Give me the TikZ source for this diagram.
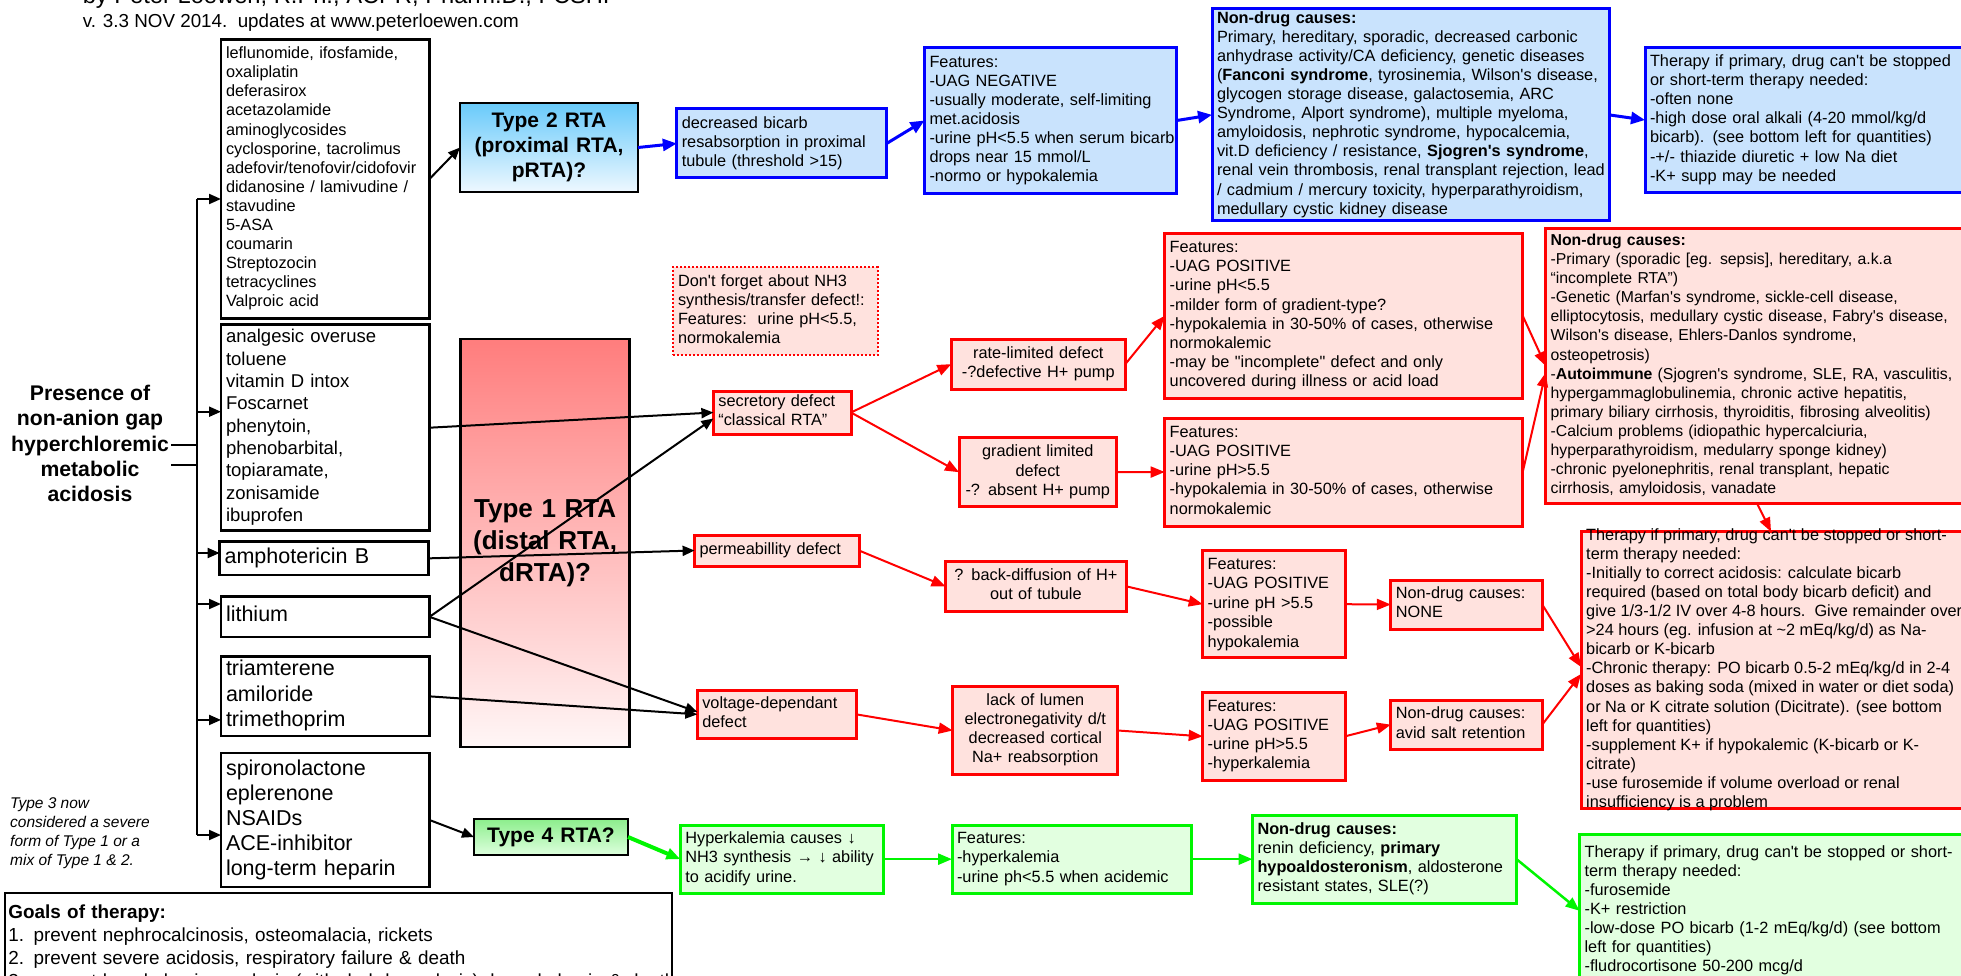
\documentclass[tikz,border=0pt]{standalone}
\usepackage{fontspec}
\setmainfont{Liberation Sans}[Ligatures=TeXOff]
\usetikzlibrary{arrows.meta}
\definecolor{bfill}{RGB}{201,227,253}
\definecolor{rfill}{RGB}{255,226,222}
\definecolor{gfill}{RGB}{226,255,224}
\definecolor{gline}{RGB}{0,245,0}
\newcommand{\setfs}[2]{\fontsize{#1pt}{#2pt}\selectfont}
\newcommand{\ltab}[1]{\begin{tabular}{@{}l@{}}#1\end{tabular}}
\newcommand{\ctab}[1]{\begin{tabular}{@{}c@{}}#1\end{tabular}}
\tikzset{
  wh/.code 2 args={\pgfmathsetlengthmacro\boxtw{#1-10pt}\edef\boxtmp{\noexpand\tikzset{text width=\boxtw,minimum height=#2pt}}\boxtmp},
  box/.style={anchor=north west, outer sep=0pt, inner xsep=5pt, inner ysep=0pt, align=left},
  sm/.style={font=\setfs{16.3}{19.1}},
  blk/.style={box, draw=black, line width=2.5pt, fill=white},
  bbx/.style={box, sm, draw=blue, line width=3pt, fill=bfill},
  rbx/.style={box, sm, draw=red, line width=3pt, fill=rfill},
  gbx/.style={box, sm, draw=gline, line width=3pt, fill=gfill},
  barr/.style={draw=black, line width=2pt, -{Triangle[length=12pt,width=10pt]}},
  blarr/.style={draw=blue, line width=3pt, -{Triangle[length=14pt,width=12pt]}},
  rarr/.style={draw=red, line width=2pt, -{Triangle[length=14pt,width=11pt]}},
  garr/.style={draw=gline, line width=2.5pt, -{Triangle[length=14pt,width=11pt]}},
}
\begin{document}
\begin{tikzpicture}[x=1pt,y=-1pt]
\useasboundingbox (0,0) rectangle (1961,976);
\clip (0,0) rectangle (1961,976);

% header
\node[anchor=base west, inner sep=0pt, font=\setfs{23.7}{28}] (auth) at (82.6,3.5) {by Peter Loewen, R.Ph., ACPR, Pharm.D., FCSHP};
\node[anchor=base west, inner sep=0pt, font=\setfs{18.8}{22}] (ver) at (82.6,27.5) {v. 3.3 NOV 2014.\ \ updates at www.peterloewen.com};

% title
\node[inner sep=2pt, align=center, font=\bfseries\setfs{21.2}{25.2}] (pres) at (90,446) {\ctab{Presence of\\non-anion gap\\hyperchloremic\\metabolic\\acidosis}};

% Type 3 note
\node[anchor=west, inner sep=0pt, font=\itshape\setfs{15.5}{19}] (t3) at (10,833.5) {\ltab{Type 3 now\\considered a severe\\form of Type 1 or a\\mix of Type 1 \& 2.}};

% drug boxes
\node[blk, wh={208.5}{279}, font=\setfs{16.3}{19.1}] (A) at (221,39.5) {\ltab{leflunomide, ifosfamide,\\oxaliplatin\\deferasirox\\acetazolamide\\aminoglycosides\\cyclosporine, tacrolimus\\adefovir/tenofovir/cidofovir\\didanosine / lamivudine /\\stavudine\\5-ASA\\coumarin\\Streptozocin\\tetracyclines\\Valproic acid}};
\node[blk, wh={208.5}{206}, font=\setfs{18.5}{22.3}] (B) at (221,324.7) {\ltab{analgesic overuse\\toluene\\vitamin D intox\\Foscarnet\\phenytoin,\\phenobarbital,\\topiaramate,\\zonisamide\\ibuprofen}};
\node[blk, wh={209}{33.3}, font=\setfs{21.5}{25}] (C) at (219.6,541.7) {\ltab{amphotericin B}};
\node[blk, wh={208.5}{40.3}, font=\setfs{21.5}{25}] (D) at (221,596.7) {\ltab{lithium}};
\node[blk, wh={208.5}{79.3}, font=\setfs{21.5}{25.5}] (E) at (221,656.7) {\ltab{triamterene\\amiloride\\trimethoprim}};
\node[blk, wh={208.5}{134}, font=\setfs{21.5}{25}] (F) at (221,753) {\ltab{spironolactone\\eplerenone\\NSAIDs\\ACE-inhibitor\\long-term heparin}};

% goals
\node[box, draw=black, line width=2pt, fill=white, inner xsep=3pt, wh={670.6}{111}, font=\setfs{18.9}{23}] (goals) at (5.4,893) {\ltab{\textbf{Goals of therapy:}\\1. prevent nephrocalcinosis, osteomalacia, rickets\\2. prevent severe acidosis, respiratory failure \& death\\3. prevent hypokalemic paralysis (with rhabdomyolysis), hyperkalemia \& death}};

% RTA type boxes
\node[box, draw=black, line width=2.5pt, top color={rgb,255:red,105;green,202;blue,250}, bottom color={rgb,255:red,238;green,248;blue,255}, align=center, wh={178}{89}, font=\bfseries\setfs{21}{25.3}] (T2) at (460,103) {\ctab{Type 2 RTA\\(proximal RTA,\\pRTA)?}};
\node[box, draw=black, line width=2.5pt, top color={rgb,255:red,255;green,125;blue,125}, bottom color={rgb,255:red,255;green,246;blue,246}, align=center, wh={168.8}{408}, font=\bfseries\setfs{26}{32}] (T1) at (460.7,339) {\ctab{Type 1 RTA\\(distal RTA,\\dRTA)?}};
\node[box, draw=black, line width=2.5pt, top color={rgb,255:red,140;green,238;blue,140}, bottom color={rgb,255:red,222;green,255;blue,222}, align=center, wh={154}{36}, font=\bfseries\setfs{21}{25}] (T4) at (474,819) {\ctab{Type 4 RTA?}};

% blue row
\node[bbx, wh={209.8}{69}] (dec) at (676.8,109) {\ltab{decreased bicarb\\resabsorption in proximal\\tubule (threshold >15)}};
\node[bbx, wh={252.3}{145.6}] (featB) at (924.5,47.7) {\ltab{Features:\\-UAG NEGATIVE\\-usually moderate, self-limiting\\met.acidosis\\-urine pH<5.5 when serum bicarb\\drops near 15 mmol/L\\-normo or hypokalemia}};
\node[bbx, wh={397}{211.7}] (ndB) at (1212,9) {\ltab{\textbf{Non-drug causes:}\\Primary, hereditary, sporadic, decreased carbonic\\anhydrase activity/CA deficiency, genetic diseases\\(\textbf{Fanconi syndrome}, tyrosinemia, Wilson's disease,\\glycogen storage disease, galactosemia, ARC\\Syndrome, Alport syndrome), multiple myeloma,\\amyloidosis, nephrotic syndrome, hypocalcemia,\\vit.D deficiency / resistance, \textbf{Sjogren's syndrome},\\renal vein thrombosis, renal transplant rejection, lead\\/ cadmium / mercury toxicity, hyperparathyroidism,\\medullary cystic kidney disease}};
\node[bbx, wh={340}{145.4}] (thB) at (1645,47.3) {\ltab{Therapy if primary, drug can't be stopped\\or short-term therapy needed:\\-often none\\-high dose oral alkali (4-20 mmol/kg/d\\bicarb). (see bottom left for quantities)\\-+/- thiazide diuretic + low Na diet\\-K+ supp may be needed}};

% red area
\node[rbx, line width=2pt, dotted, wh={204.7}{87.7}] (note) at (673,267.3) {\ltab{Don't forget about NH3\\synthesis/transfer defect!:\\Features:\ \ urine pH<5.5,\\normokalemia}};
\node[rbx, wh={137.6}{43}] (sec) at (713.4,391) {\ltab{secretory defect\\“classical RTA”}};
\node[rbx, align=center, wh={174}{49.7}] (rate) at (951.3,339.3) {\ctab{rate-limited defect\\-?defective H+ pump}};
\node[rbx, align=center, wh={157.5}{69}] (grad) at (959,437.7) {\ctab{gradient limited\\defect\\-? absent H+ pump}};
\node[rbx, wh={358}{165}] (featR1) at (1164.7,233.3) {\ltab{Features:\\-UAG POSITIVE\\-urine pH<5.5\\-milder form of gradient-type?\\-hypokalemia in 30-50\% of cases, otherwise\\normokalemic\\-may be "incomplete" defect and only\\uncovered during illness or acid load}};
\node[rbx, wh={358}{108}] (featR2) at (1164.7,418) {\ltab{Features:\\-UAG POSITIVE\\-urine pH>5.5\\-hypokalemia in 30-50\% of cases, otherwise\\normokalemic}};
\node[rbx, wh={422.8}{275}, font=\setfs{15.8}{19.1}] (ndR) at (1545.6,228.3) {\ltab{\textbf{Non-drug causes:}\\-Primary (sporadic [eg. sepsis], hereditary, a.k.a\\“incomplete RTA”)\\-Genetic (Marfan's syndrome, sickle-cell disease,\\elliptocytosis, medullary cystic disease, Fabry's disease,\\Wilson's disease, Ehlers-Danlos syndrome,\\osteopetrosis)\\-\textbf{Autoimmune} (Sjogren's syndrome, SLE, RA, vasculitis,\\hypergammaglobulinemia, chronic active hepatitis,\\primary biliary cirrhosis, thyroiditis, fibrosing alveolitis)\\-Calcium problems (idiopathic hypercalciuria,\\hyperparathyroidism, medularry sponge kidney)\\-chronic pyelonephritis, renal transplant, hepatic\\cirrhosis, amyloidosis, vanadate}};
\node[rbx, wh={400}{276.6}] (thR) at (1581,531.7) {};
\node[anchor=west, inner sep=0pt, sm] (thRt) at ([xshift=5pt]thR.west) {\ltab{Therapy if primary, drug can't be stopped or short-\\term therapy needed:\\-Initially to correct acidosis: calculate bicarb\\required (based on total body bicarb deficit) and\\give 1/3-1/2 IV over 4-8 hours.\ \ Give remainder over\\>24 hours (eg. infusion at \textasciitilde 2 mEq/kg/d) as Na-\\bicarb or K-bicarb\\-Chronic therapy: PO bicarb 0.5-2 mEq/kg/d in 2-4\\doses as baking soda (mixed in water or diet soda)\\or Na or K citrate solution (Dicitrate). (see bottom\\left for quantities)\\-supplement K+ if hypokalemic (K-bicarb or K-\\citrate)\\-use furosemide if volume overload or renal\\insufficiency is a problem}};
\node[rbx, wh={164.4}{31}] (perm) at (694.6,535) {\ltab{permeabillity defect}};
\node[rbx, align=center, wh={180.8}{49.3}] (bd) at (945.5,561.7) {\ctab{? back-diffusion of H+\\out of tubule}};
\node[rbx, wh={142.3}{107}, font=\setfs{16.3}{19.5}] (featR3) at (1202.7,550.7) {\ltab{Features:\\-UAG POSITIVE\\-urine pH >5.5\\-possible\\hypokalemia}};
\node[rbx, wh={151.4}{49}] (none) at (1390.8,580) {\ltab{Non-drug causes:\\NONE}};
\node[rbx, wh={159}{48.7}] (volt) at (697.3,690) {\ltab{voltage-dependant\\defect}};
\node[rbx, align=center, wh={165.2}{87.6}] (lack) at (952.7,686.7) {\ctab{lack of lumen\\electronegativity d/t\\decreased cortical\\Na+ reabsorption}};
\node[rbx, wh={142.3}{87.3}] (featR4) at (1202.7,692.7) {\ltab{Features:\\-UAG POSITIVE\\-urine pH>5.5\\-hyperkalemia}};
\node[rbx, wh={151.4}{49.3}] (avid) at (1390.8,700) {\ltab{Non-drug causes:\\avid salt retention}};

% green row
\node[gbx, wh={202.6}{68.3}] (hyp) at (680.4,825) {\ltab{Hyperkalemia causes ↓\\NH3 synthesis → ↓ ability\\to acidify urine.}};
\node[gbx, wh={239}{68.3}] (featG) at (952,825) {\ltab{Features:\\-hyperkalemia\\-urine ph<5.5 when acidemic}};
\node[gbx, wh={264}{88.3}] (ndG) at (1252.5,815) {\ltab{\textbf{Non-drug causes:}\\renin deficiency, \textbf{primary}\\\textbf{hypoaldosteronism}, aldosterone\\resistant states, SLE(?)}};
\node[gbx, wh={400}{153}] (thG) at (1579.6,834.3) {\ltab{Therapy if primary, drug can't be stopped or short-\\term therapy needed:\\-furosemide\\-K+ restriction\\-low-dose PO bicarb (1-2 mEq/kg/d) (see bottom\\left for quantities)\\-fludrocortisone 50-200 mcg/d}};

% trunk
\coordinate (trT) at (197,199);
\coordinate (trB) at (197,835);
\draw[line width=2.5pt] (trT) -- (trB);
\draw[line width=2.5pt] (pres.east |- 0,445) -- (trT |- 0,445);
\draw[line width=2.5pt] (pres.east |- 0,465) -- (trT |- 0,465);
\draw[barr] (trT) -- ([yshift=-20pt]A.west);
\draw[barr] ([yshift=16pt]B.west -| trT) -- ([yshift=16pt]B.west);
\draw[barr] ([yshift=5.35pt]C.west -| trT) -- ([yshift=5.35pt]C.west);
\draw[barr] ([yshift=12.85pt]D.west -| trT) -- ([yshift=12.85pt]D.west);
\draw[barr] ([yshift=-23.6pt]E.west -| trT) -- ([yshift=-23.6pt]E.west);
\draw[barr] ([yshift=-15pt]F.west -| trT) -- ([yshift=-15pt]F.west);

% black connectors
\draw[barr] (A.east) -- (T2.west);
\draw[barr] (B.east) -- (sec.west);
\draw[barr] (D.east) -- ([yshift=-6pt]sec.west);
\draw[barr] (C.east) -- (perm.west);
\draw[barr] (D.east) -- ([yshift=2.5pt]volt.west);
\draw[barr] (E.east) -- (volt.west);
\draw[barr] (F.east) -- (T4.west);

% blue connectors
\draw[blarr] (T2.east) -- (dec.west);
\draw[blarr] (dec.east) -- (featB.west);
\draw[blarr] (featB.east) -- (ndB.west);
\draw[blarr] (ndB.east) -- (thB.west);

% red connectors
\draw[rarr] (sec.east) -- (rate.west);
\draw[rarr] (sec.east) -- (grad.west);
\draw[rarr] (rate.east) -- (featR1.west);
\draw[rarr] (grad.east) -- (featR2.west);
\draw[rarr] (featR1.east) -- (ndR.west);
\draw[rarr] (featR2.east) -- ([yshift=-7pt]ndR.west);
\draw[rarr] (ndR.south) -- ([xshift=-10pt]thR.north);
\draw[rarr] (perm.east) -- (bd.west);
\draw[rarr] (bd.east) -- (featR3.west);
\draw[rarr] (featR3.east) -- (none.west);
\draw[rarr] (none.east) -- ([yshift=3pt]thR.west);
\draw[rarr] (volt.east) -- (lack.west);
\draw[rarr] (lack.east) -- (featR4.west);
\draw[rarr] (featR4.east) -- (avid.west);
\draw[rarr] (avid.east) -- ([yshift=-4pt]thR.west);

% green connectors
\draw[garr, line width=4pt] (T4.east) -- (hyp.west);
\draw[garr] (hyp.east) -- (featG.west);
\draw[garr] (featG.east) -- (ndG.west);
\draw[garr] (ndG.east) -- (thG.west);
\end{tikzpicture}
\end{document}
